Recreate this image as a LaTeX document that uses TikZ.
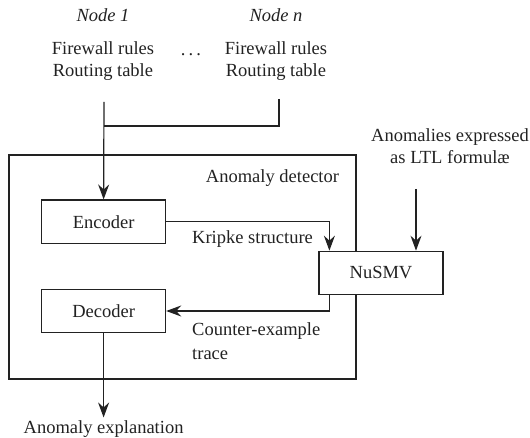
\documentclass[tikz,border=0pt]{standalone}
\usepackage{fontspec}
\setmainfont{Liberation Serif}
\usetikzlibrary{arrows.meta,positioning}
\definecolor{ink}{HTML}{222222}
\begin{document}
\begin{tikzpicture}[x=1pt,y=-1pt,
  every node/.style={font=\fontsize{18.5}{22}\selectfont, text=ink, inner sep=0pt},
  blk/.style={draw=ink, fill=white, line width=1.2pt, minimum width=124pt, minimum height=43.5pt},
  conn/.style={draw=ink, line width=1.2pt},
  arr/.style={conn, -{Stealth[length=15pt,width=11pt,inset=5pt]}},
  lbl/.style={anchor=base, align=center}
]
\useasboundingbox (0,0) rectangle (530,438);
% group box
\draw[conn] (9,155) rectangle (356,379);
\node[anchor=base] (det) at (272.5,183) {Anomaly detector};
% inputs
\node[anchor=base] (h1) at (103,22) {\itshape Node 1};
\node[anchor=base] (hn) at (276,22) {\itshape Node n};
\node[lbl] (in1) at (103,77) {Firewall rules\\Routing table};
\node[lbl] (inn) at (276,77) {Firewall rules\\Routing table};
\node[anchor=base] (dots) at (191,55.8) {.\,.\,.};
\node[lbl] (ltl) at (450,164) {Anomalies expressed\\as LTL formulæ};
% boxes
\node[blk] (enc) at (103.6,221.8) {Encoder};
\node[blk] (dec) at (103.6,311) {Decoder};
\node[blk] (smv) at (381,273) {NuSMV};
% coordinates
\coordinate (s1) at (104,102);
\coordinate (sn) at (279,99);
\coordinate (j) at (104,126);
\coordinate (sl) at (416,189);
% connectors
\draw[conn] (sn) |- (j);
\draw[arr] (s1) -- (enc.north);
\draw[arr] (sl) -- (sl |- smv.north);
\draw[arr] (enc.east) -| ([xshift=11pt]smv.north west);
\draw[arr] ([xshift=11pt]smv.south west) |- (dec.east);
\node[anchor=base] (expl) at (103.6,433.5) {Anomaly explanation};
\draw[arr] (dec.south) -- ([yshift=3pt]expl.north);
% labels
\node[anchor=base west] (kr) at (192,244) {Kripke structure};
\node[anchor=base west, align=left] (ce) at (192,359) {Counter-example\\[1.5pt]trace};
\end{tikzpicture}
\end{document}
